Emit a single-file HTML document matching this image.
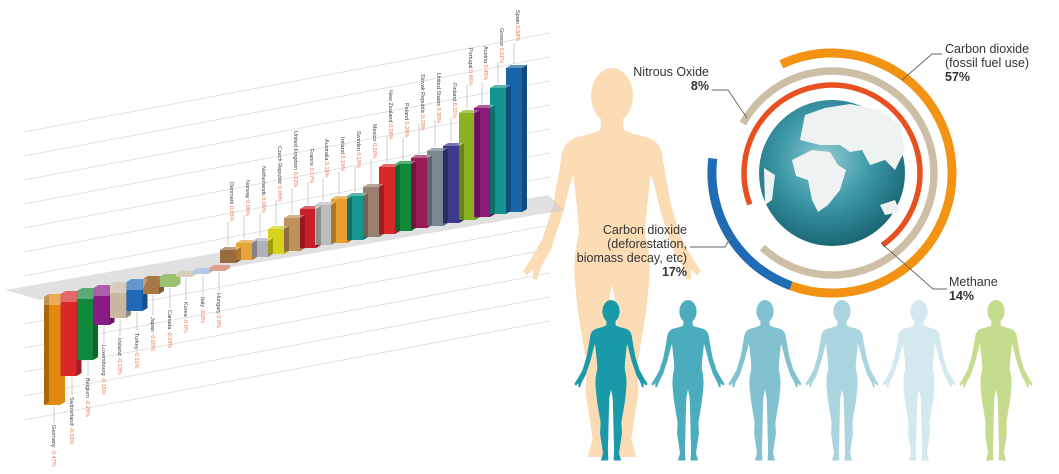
<!DOCTYPE html>
<html><head><meta charset="utf-8"><style>
html,body{margin:0;padding:0;background:#fff;}
svg{display:block;font-family:"Liberation Sans",sans-serif;}
.l{font-size:5.5px;fill:#444}
.v{fill:#f07040}
.ld{stroke:#aaa;stroke-width:0.6}
.g{stroke:#e2e2e2;stroke-width:1}
.sd{fill:#000;opacity:.25}
.tp{fill:#fff;opacity:.3}
.t{font-size:12.5px;fill:#333}
.b{font-weight:bold}
.lk{stroke:#666;stroke-width:0.9;fill:none}
</style></head><body>
<svg width="1059" height="474" viewBox="0 0 1059 474" xmlns="http://www.w3.org/2000/svg">
<defs>
<path id="hum" d="M-2.8,12.5 L2.8,12.5 L2.9,15.5 C5,17 8,17 10,18 C12,19 12.8,21 13,24 L15,35 L17.5,43 L20,47.5 L22.5,51.5 L21.5,52.5 L20,51 L20,53.5 L19,53.5 L18,50.5 L15.5,46 L12.5,37 L10.5,29 L9.8,27 L8.6,38 L8.4,42 C9.3,46 9.8,49 9.4,54 L8.6,62 L6.4,75 L6.7,82 L4.9,94 L6.2,98.5 L1.6,98.5 L1.9,92 L1.6,82 L1.4,72 L1,60 L0,55 L-1,60 L-1.4,72 L-1.6,82 L-1.9,92 L-1.6,98.5 L-6.2,98.5 L-4.9,94 L-6.7,82 L-6.4,75 L-8.6,62 L-9.4,54 C-9.8,49 -9.3,46 -8.4,42 L-8.6,38 L-9.8,27 L-10.5,29 L-12.5,37 L-15.5,46 L-18,50.5 L-19,53.5 L-20,53.5 L-20,51 L-21.5,52.5 L-22.5,51.5 L-20,47.5 L-17.5,43 L-15,35 L-13,24 C-12.8,21 -12,19 -10,18 C-8,17 -5,17 -2.9,15.5 Z M0,0 A5.3,7 0 1 1 0,14 A5.3,7 0 1 1 0,0 Z"/>
<radialGradient id="gl" cx="45%" cy="40%" r="65%">
<stop offset="0" stop-color="#8fcbd3"/><stop offset=".5" stop-color="#3a96a5"/><stop offset="1" stop-color="#15606e"/>
</radialGradient>
</defs>

<g class="g">
<line x1="24" y1="132" x2="550" y2="33"/><line x1="24" y1="156" x2="550" y2="57"/>
<line x1="24" y1="180" x2="550" y2="81"/><line x1="24" y1="204" x2="550" y2="105"/>
<line x1="24" y1="228" x2="550" y2="129"/><line x1="24" y1="252" x2="550" y2="153"/>
<line x1="24" y1="276" x2="550" y2="177"/><line x1="24" y1="324" x2="550" y2="225"/>
<line x1="24" y1="348" x2="550" y2="249"/><line x1="24" y1="372" x2="550" y2="273"/>
<line x1="24" y1="396" x2="550" y2="297"/><line x1="24" y1="420" x2="550" y2="321"/>
</g>

<use href="#hum" transform="translate(612,68) scale(3.95)" fill="#fcdcb5"/>

<polygon points="5,290 548,195 565,210 40,300" fill="#c8c8c8" opacity=".55"/>

<g>
<polygon fill="#e08a10" points="44,297 49,294 65,294 65,402 60,405 44,405"/><polygon class="sd" points="44,297 49,294 49,402 44,405"/>
<polygon fill="#d8282a" points="60.5,294 65.5,291 81.5,291 81.5,373 76.5,376 60.5,376"/><polygon class="sd" points="76.5,294 81.5,291 81.5,373 76.5,376"/>
<polygon fill="#108a3a" points="77,291 82,288 98,288 98,357 93,360 77,360"/><polygon class="sd" points="93,291 98,288 98,357 93,360"/>
<polygon fill="#8a1a88" points="93.5,288 98.5,285 114.5,285 114.5,322 109.5,325 93.5,325"/><polygon class="sd" points="109.5,288 114.5,285 114.5,322 109.5,325"/>
<polygon fill="#c8b8a0" points="110,285 115,282 131,282 131,315 126,318 110,318"/><polygon class="sd" points="126,285 131,282 131,315 126,318"/>
<polygon fill="#1f6ab8" points="126.5,282 131.5,279 147.5,279 147.5,308 142.5,311 126.5,311"/><polygon class="sd" points="142.5,282 147.5,279 147.5,308 142.5,311"/>
<polygon fill="#a87848" points="143,279 148,276 164,276 164,291 159,294 143,294"/><polygon class="sd" points="159,279 164,276 164,291 159,294"/>
<polygon fill="#9ac070" points="159.5,277 164.5,274 180.5,274 180.5,284 175.5,287 159.5,287"/>
<polygon fill="#d8cfb8" points="176,274 181,271 197,271 197,274 192,277 176,277"/>
<polygon fill="#b8c8e8" points="192.5,271 197.5,268 213.5,268 213.5,271 208.5,274 192.5,274"/>
<polygon fill="#e0a090" points="209,268 214,265 230,265 230,268 225,271 209,271"/>
<g class="tp"><polygon points="44,297 49,294 65,294 60,305 44,305"/><polygon points="60.5,294 65.5,291 81.5,291 76.5,302 60.5,302"/><polygon points="77,291 82,288 98,288 93,299 77,299"/><polygon points="93.5,288 98.5,285 114.5,285 109.5,296 93.5,296"/><polygon points="110,285 115,282 131,282 126,293 110,293"/><polygon points="126.5,282 131.5,279 147.5,279 142.5,290 126.5,290"/></g>
</g>

<g>
<polygon fill="#9a6b3f" points="220,250 225,247 241,247 241,260 236,263 220,263"/>
<polygon fill="#e8a23a" points="236,243 241,240 257,240 257,257 252,260 236,260"/>
<polygon fill="#b0b0b8" points="252,241 257,238 273,238 273,254 268,257 252,257"/>
<polygon fill="#d6d21a" points="268,229 273,226 289,226 289,251 284,254 268,254"/>
<polygon fill="#c0915c" points="284,218 289,215 305,215 305,248 300,251 284,251"/>
<polygon fill="#c8202a" points="300,209 305,206 321,206 321,245 316,248 300,248"/>
<polygon fill="#bcbcbc" points="315,205 320,202 336,202 336,242 331,245 315,245"/>
<polygon fill="#e8a030" points="331,199 336,196 352,196 352,240 347,243 331,243"/>
<polygon fill="#15968f" points="347,196 352,193 368,193 368,237 363,240 347,240"/>
<polygon fill="#9a8070" points="363,187 368,184 384,184 384,234 379,237 363,237"/>
<polygon fill="#d8282a" points="379,167 384,164 400,164 400,231 395,234 379,234"/>
<polygon fill="#108a3a" points="395,164 400,161 416,161 416,228 411,231 395,231"/>
<polygon fill="#9a1a58" points="411,158 416,155 432,155 432,225 427,228 411,228"/>
<polygon fill="#7a8690" points="427,151 432,148 448,148 448,223 443,226 427,226"/>
<polygon fill="#3c3a8c" points="443,146 448,143 464,143 464,220 459,223 443,223"/>
<polygon fill="#8ab21e" points="459,113 464,110 480,110 480,217 475,220 459,220"/>
<polygon fill="#8a1a78" points="474,108 479,105 495,105 495,214 490,217 474,217"/>
<polygon fill="#149490" points="490,88 495,85 511,85 511,211 506,214 490,214"/>
<polygon fill="#1a64a8" points="506,68 511,65 527,65 527,209 522,212 506,212"/>
<g class="sd">
<polygon points="236,250 241,247 241,260 236,263"/><polygon points="252,243 257,240 257,257 252,260"/><polygon points="268,241 273,238 273,254 268,257"/><polygon points="284,229 289,226 289,251 284,254"/><polygon points="300,218 305,215 305,248 300,251"/><polygon points="316,209 321,206 321,245 316,248"/><polygon points="331,205 336,202 336,242 331,245"/><polygon points="347,199 352,196 352,240 347,243"/><polygon points="363,196 368,193 368,237 363,240"/><polygon points="379,187 384,184 384,234 379,237"/><polygon points="395,167 400,164 400,231 395,234"/><polygon points="411,164 416,161 416,228 411,231"/><polygon points="427,158 432,155 432,225 427,228"/><polygon points="443,151 448,148 448,223 443,226"/><polygon points="459,146 464,143 464,220 459,223"/><polygon points="475,113 480,110 480,217 475,220"/><polygon points="490,108 495,105 495,214 490,217"/><polygon points="506,88 511,85 511,211 506,214"/><polygon points="522,68 527,65 527,209 522,212"/>
</g>
<g class="tp">
<polygon points="220,250 225,247 241,247 236,250"/><polygon points="236,243 241,240 257,240 252,243"/><polygon points="252,241 257,238 273,238 268,241"/><polygon points="268,229 273,226 289,226 284,229"/><polygon points="284,218 289,215 305,215 300,218"/><polygon points="300,209 305,206 321,206 316,209"/><polygon points="315,205 320,202 336,202 331,205"/><polygon points="331,199 336,196 352,196 347,199"/><polygon points="347,196 352,193 368,193 363,196"/><polygon points="363,187 368,184 384,184 379,187"/><polygon points="379,167 384,164 400,164 395,167"/><polygon points="395,164 400,161 416,161 411,164"/><polygon points="411,158 416,155 432,155 427,158"/><polygon points="427,151 432,148 448,148 443,151"/><polygon points="443,146 448,143 464,143 459,146"/><polygon points="459,113 464,110 480,110 475,113"/><polygon points="474,108 479,105 495,105 490,108"/><polygon points="490,88 495,85 511,85 506,88"/><polygon points="506,68 511,65 527,65 522,68"/>
</g>
</g>

<g class="l">
<text transform="translate(230,182) rotate(90)">Denmark <tspan class="v">0.05%</tspan></text>
<text transform="translate(246,180) rotate(90)">Norway <tspan class="v">0.06%</tspan></text>
<text transform="translate(262,166) rotate(90)">Netherlands <tspan class="v">0.06%</tspan></text>
<text transform="translate(278,146) rotate(90)">Czech Republic <tspan class="v">0.09%</tspan></text>
<text transform="translate(294,131) rotate(90)">United Kingdom <tspan class="v">0.12%</tspan></text>
<text transform="translate(310,149) rotate(90)">France <tspan class="v">0.17%</tspan></text>
<text transform="translate(325,139) rotate(90)">Australia <tspan class="v">0.18%</tspan></text>
<text transform="translate(341,137) rotate(90)">Ireland <tspan class="v">0.19%</tspan></text>
<text transform="translate(357,131) rotate(90)">Sweden <tspan class="v">0.19%</tspan></text>
<text transform="translate(373,124) rotate(90)">Mexico <tspan class="v">0.20%</tspan></text>
<text transform="translate(389,90) rotate(90)">New Zealand <tspan class="v">0.28%</tspan></text>
<text transform="translate(405,103) rotate(90)">Poland <tspan class="v">0.28%</tspan></text>
<text transform="translate(421,74) rotate(90)">Slovak Republic <tspan class="v">0.29%</tspan></text>
<text transform="translate(437,73) rotate(90)">United States <tspan class="v">0.30%</tspan></text>
<text transform="translate(453,83) rotate(90)">Finland <tspan class="v">0.31%</tspan></text>
<text transform="translate(469,48) rotate(90)">Portugal <tspan class="v">0.46%</tspan></text>
<text transform="translate(484,46) rotate(90)">Austria <tspan class="v">0.45%</tspan></text>
<text transform="translate(500,28) rotate(90)">Greece <tspan class="v">0.51%</tspan></text>
<text transform="translate(516,10) rotate(90)">Spain <tspan class="v">0.58%</tspan></text>
</g>
<g class="ld">
<line x1="228" y1="222" x2="228" y2="246"/><line x1="244" y1="215" x2="244" y2="239"/><line x1="260" y1="213" x2="260" y2="237"/><line x1="276" y1="200" x2="276" y2="225"/><line x1="292" y1="188" x2="292" y2="214"/><line x1="308" y1="182" x2="308" y2="205"/><line x1="323" y1="178" x2="323" y2="201"/><line x1="339" y1="172" x2="339" y2="195"/><line x1="355" y1="166" x2="355" y2="192"/><line x1="371" y1="159" x2="371" y2="183"/><line x1="387" y1="136" x2="387" y2="163"/><line x1="403" y1="137" x2="403" y2="160"/><line x1="419" y1="124" x2="419" y2="154"/><line x1="435" y1="120" x2="435" y2="147"/><line x1="451" y1="117" x2="451" y2="142"/><line x1="467" y1="85" x2="467" y2="109"/><line x1="482" y1="82" x2="482" y2="104"/><line x1="498" y1="62" x2="498" y2="84"/><line x1="514" y1="43" x2="514" y2="64"/>
</g>

<g class="l">
<text transform="translate(52,425) rotate(90)">Germany <tspan class="v">-0.47%</tspan></text>
<text transform="translate(70,397) rotate(90)">Switzerland <tspan class="v">-0.33%</tspan></text>
<text transform="translate(86,378) rotate(90)">Belgium <tspan class="v">-0.29%</tspan></text>
<text transform="translate(102,345) rotate(90)">Luxembourg <tspan class="v">-0.15%</tspan></text>
<text transform="translate(118,338) rotate(90)">Iceland <tspan class="v">-0.13%</tspan></text>
<text transform="translate(135,333) rotate(90)">Turkey <tspan class="v">-0.12%</tspan></text>
<text transform="translate(151,317) rotate(90)">Japan <tspan class="v">-0.05%</tspan></text>
<text transform="translate(168,310) rotate(90)">Canada <tspan class="v">-0.03%</tspan></text>
<text transform="translate(184,302) rotate(90)">Korea <tspan class="v">-0.0%</tspan></text>
<text transform="translate(201,297) rotate(90)">Italy <tspan class="v">-0.0%</tspan></text>
<text transform="translate(217,293) rotate(90)">Hungary <tspan class="v">0.0%</tspan></text>
</g>
<g class="ld">
<line x1="54" y1="406" x2="54" y2="423"/><line x1="72" y1="377" x2="72" y2="395"/><line x1="88" y1="361" x2="88" y2="376"/><line x1="104" y1="326" x2="104" y2="343"/><line x1="120" y1="319" x2="120" y2="336"/><line x1="137" y1="312" x2="137" y2="331"/><line x1="153" y1="295" x2="153" y2="315"/><line x1="170" y1="288" x2="170" y2="308"/><line x1="186" y1="278" x2="186" y2="300"/><line x1="203" y1="275" x2="203" y2="295"/><line x1="219" y1="272" x2="219" y2="291"/>
</g>

<g fill="none">
<path d="M781.3,64.3 A120,120 0 1 1 791,285.8" stroke="#f39314" stroke-width="9"/>
<path d="M791,285.8 A120,120 0 0 1 712.8,158.4" stroke="#1f6cb4" stroke-width="9"/>
<path d="M742.8,123.5 A102,102 0 1 1 762.4,247.6" stroke="#cdbfa6" stroke-width="7.5"/>
<path d="M749.8,204.5 A88,88 0 1 1 882.5,245.1" stroke="#e9501f" stroke-width="5.5"/>
</g>
<circle cx="832" cy="173" r="73" fill="url(#gl)"/>
<g fill="#eef2f3">
<path d="M792,160 L812,150 L830,152 L838,165 L846,170 L840,190 L828,205 L818,212 L812,200 L808,180 L796,176 Z"/>
<path d="M800,140 L805,115 L825,108 L850,104 L880,110 L900,125 L905,150 L895,170 L885,160 L870,165 L862,150 L850,152 L840,145 L820,145 Z"/>
<path d="M880,205 L895,200 L900,212 L885,215 Z"/>
<path d="M764,168 L775,175 L772,200 L765,205 Z"/>
</g>

<polyline class="lk" points="942,54 932,54 902,80"/>
<polyline class="lk" points="712,90 728,90 747,118"/>
<polyline class="lk" points="690,247 725,247 733,233"/>
<polyline class="lk" points="947,289 933,289 881,243"/>

<text class="t" x="945" y="53">Carbon dioxide</text>
<text class="t" x="945" y="67">(fossil fuel use)</text>
<text class="t b" x="945" y="81">57%</text>
<text class="t" x="709" y="76" text-anchor="end">Nitrous Oxide</text>
<text class="t b" x="709" y="90" text-anchor="end">8%</text>
<text class="t" x="687" y="234" text-anchor="end">Carbon dioxide</text>
<text class="t" x="687" y="248" text-anchor="end">(deforestation,</text>
<text class="t" x="687" y="262" text-anchor="end">biomass decay, etc)</text>
<text class="t b" x="687" y="276" text-anchor="end">17%</text>
<text class="t" x="949" y="286">Methane</text>
<text class="t b" x="949" y="300">14%</text>

<use href="#hum" transform="translate(611,300) scale(1.63)" fill="#1a9aa8"/>
<use href="#hum" transform="translate(688,300) scale(1.63)" fill="#4bacbd"/>
<use href="#hum" transform="translate(765,300) scale(1.63)" fill="#82c2d0"/>
<use href="#hum" transform="translate(842,300) scale(1.63)" fill="#aad5df"/>
<use href="#hum" transform="translate(919,300) scale(1.63)" fill="#d3e9ef"/>
<use href="#hum" transform="translate(996,300) scale(1.63)" fill="#c5dc8f"/>
</svg>
</body></html>
